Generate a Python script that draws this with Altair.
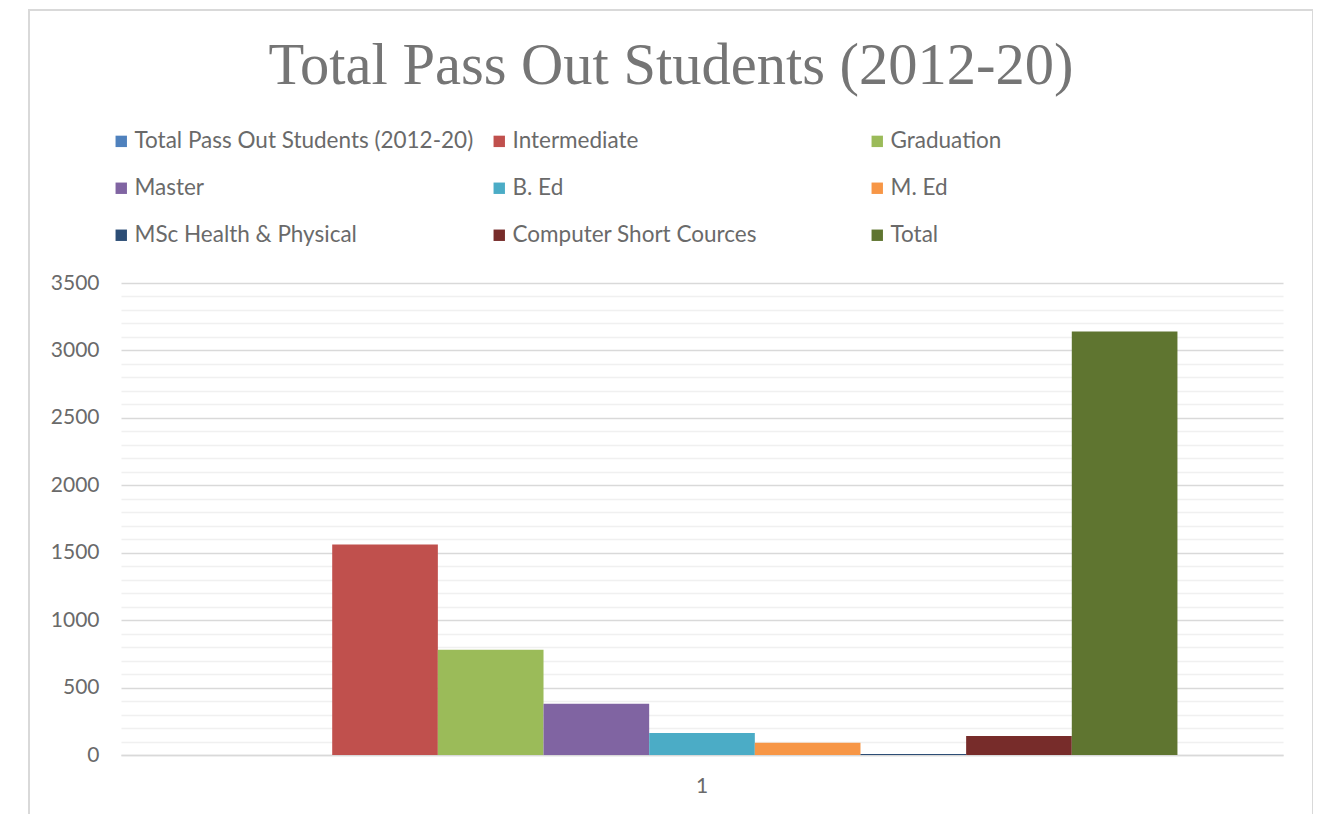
import altair as alt
import pandas as pd

series = ["Total Pass Out Students (2012-20)", "Intermediate", "Graduation", "Master",
          "B. Ed", "M. Ed", "MSc Health & Physical", "Computer Short Cources", "Total"]
values = [0, 1560, 780, 380, 163, 90, 8, 141, 3140]
category = ["1"] * len(series)
colors = ["#4F81BD", "#C0504D", "#9BBB59", "#8064A2", "#4BACC6", "#F79646",
          "#2C4D75", "#772C2A", "#5F7530"]
title_text = "Total Pass Out Students (2012-20)"

df = pd.DataFrame({"cat": category, "series": series, "value": values})

FONT = "Lato"
GREY = "#6a6a6a"

bars = alt.Chart(df).mark_bar().encode(
    x=alt.X("cat:N", title=None,
            scale=alt.Scale(paddingInner=0, paddingOuter=0.111),
            axis=alt.Axis(labelAngle=0, ticks=False, labelFontSize=21, labelColor=GREY,
                          labelFont=FONT, labelPadding=20, domainColor="#d9d9d9",
                          domainWidth=1.5, grid=False)),
    xOffset=alt.XOffset("series:N", sort=series,
                        scale=alt.Scale(paddingInner=0, paddingOuter=0)),
    y=alt.Y("value:Q", title=None,
            scale=alt.Scale(domain=[0, 3500], nice=False),
            axis=alt.Axis(values=list(range(0, 3600, 100)),
                          labelExpr="datum.value % 500 === 0 ? datum.label : ''",
                          format="d", ticks=False, domain=False,
                          labelFontSize=21, labelColor=GREY, labelFont=FONT,
                          labelPadding=22,
                          gridColor={"condition": {"test": "datum.value % 500 === 0",
                                                   "value": "#d9d9d9"},
                                     "value": "#f0f0f0"},
                          gridWidth=1.3)),
    color=alt.Color("series:N", sort=series,
                    scale=alt.Scale(domain=series, range=colors),
                    legend=alt.Legend(title=None, orient="none", legendX=-11, legendY=-153,
                                      columns=3, direction="horizontal", gridAlign="all",
                                      columnPadding=14, padding=0,
                                      rowPadding=24, symbolType="square", symbolSize=130,
                                      symbolStrokeWidth=0, labelFontSize=22.5,
                                      labelColor=GREY, labelFont=FONT, labelLimit=600,
                                      labelOffset=2)),
)

frame = alt.Chart(df).mark_rect(fill=None, stroke="#d9d9d9", strokeWidth=2, clip=False).encode(
    x=alt.value(-92), x2=alt.value(1192), y=alt.value(-273), y2=alt.value(560)
)

title = alt.Chart(df).transform_filter(alt.datum.series == "Total").mark_text(
    font="Liberation Serif", fontSize=58.5, color="#757575", align="center",
    baseline="alphabetic", clip=False
).encode(x=alt.value(550), y=alt.value(-199), text=alt.value(title_text))

chart = alt.layer(frame, bars, title).properties(
    width=1162, height=472,
    autosize=alt.AutoSizeParams(type="none"),
    padding={"left": 113, "top": 275, "right": 30, "bottom": 60},
).configure_view(stroke=None)

chart.save("out.html", embed_options={"renderer": "svg", "actions": False})
